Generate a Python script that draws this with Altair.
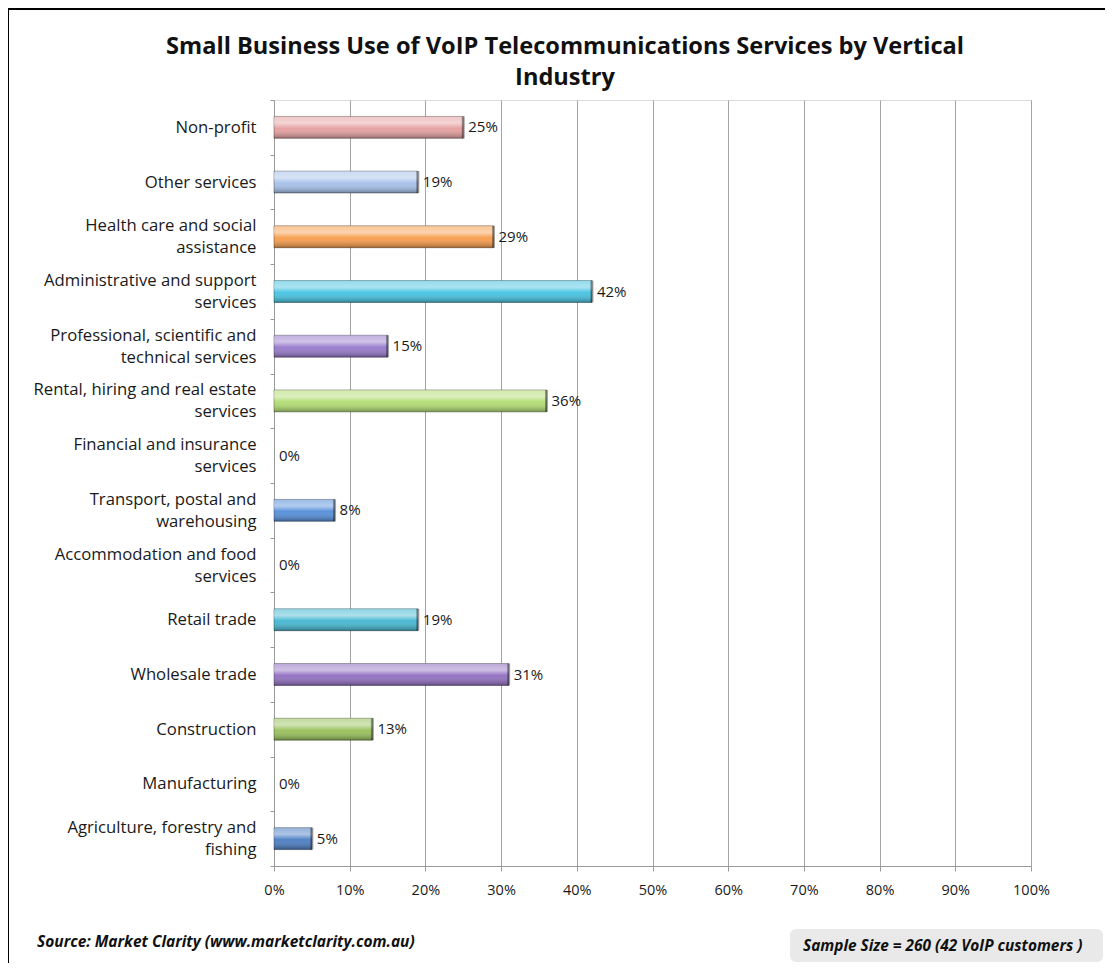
import altair as alt
import pandas as pd

categories = [
    "Non-profit",
    "Other services",
    "Health care and social\nassistance",
    "Administrative and support\nservices",
    "Professional, scientific and\ntechnical services",
    "Rental, hiring and real estate\nservices",
    "Financial and insurance\nservices",
    "Transport, postal and\nwarehousing",
    "Accommodation and food\nservices",
    "Retail trade",
    "Wholesale trade",
    "Construction",
    "Manufacturing",
    "Agriculture, forestry and\nfishing",
]
values = [0.25, 0.19, 0.29, 0.42, 0.15, 0.36, 0.0, 0.08, 0.0, 0.19, 0.31, 0.13, 0.0, 0.05]
colors = [
    "#E6A1A1", "#A6C1EA", "#F79D4C", "#47C4E2", "#987BCB", "#B1DC72", "#C9C9C9",
    "#5690DA", "#C9C9C9", "#46B8D2", "#9270C1", "#99C25C", "#C9C9C9", "#4C7EC4",
]
x_ticks = [i / 10 for i in range(11)]

title_line1 = "Small Business Use of VoIP Telecommunications Services by Vertical"
title_line2 = "Industry"
source_text = "Source: Market Clarity (www.marketclarity.com.au)"
sample_text = "Sample Size = 260 (42 VoIP customers )"

df = pd.DataFrame({"category": categories, "value": values})
one = pd.DataFrame({"k": [0]})

FONT = "Open Sans"

y_enc = alt.Y(
    "category:N",
    sort=categories,
    scale=alt.Scale(paddingInner=0, paddingOuter=0),
    axis=alt.Axis(
        title=None,
        labelExpr="isString(datum.value) ? split(datum.value, '\\n') : ''",
        labelFont=FONT,
        labelFontSize=16.7,
        labelColor="#1a1a1a",
        labelLineHeight=22,
        labelPadding=14,
        labelOffset={
            "condition": {"test": "isString(datum.value) && indexof(datum.value, '\\n') >= 0", "value": -11},
            "value": 0,
        },
        labelLimit=0,
        tickSize=4,
        tickColor="#9a9a9a",
        domainColor="#9a9a9a",
        tickBand="extent",
        grid=False,
    ),
)
x_enc = alt.X(
    "value:Q",
    scale=alt.Scale(domain=[0, 1], nice=False),
    axis=alt.Axis(
        title=None,
        values=x_ticks,
        format=".0%",
        labelFont=FONT,
        labelFontSize=14.5,
        labelColor="#1a1a1a",
        labelPadding=12,
        labelFlush=False,
        tickSize=5,
        tickColor="#9a9a9a",
        domainColor="#9a9a9a",
        grid=True,
        gridColor="#a3a3a3",
        gridWidth=1,
    ),
)
color_enc = alt.Color("category:N", scale=alt.Scale(domain=categories, range=colors), legend=None)

border = alt.Chart(one).mark_rect(fill="transparent", stroke="#000000", strokeWidth=2).encode(
    x=alt.value(-266), x2=alt.value(1000), y=alt.value(-91), y2=alt.value(1000)
)

base = alt.Chart(df).transform_filter("datum.value > 0")

bars = base.mark_bar(
    height=alt.RelativeBandSize(0.4),
    stroke="rgba(0,0,0,0.35)",
    strokeWidth=1,
).encode(x=x_enc, y=y_enc, color=color_enc)

gloss = base.mark_bar(
    height=alt.RelativeBandSize(0.4),
    fill=alt.Gradient(
        gradient="linear",
        x1=0, x2=0, y1=0, y2=1,
        stops=[
            alt.GradientStop(offset=0, color="rgba(255,255,255,0.4)"),
            alt.GradientStop(offset=0.3, color="rgba(255,255,255,0.55)"),
            alt.GradientStop(offset=0.55, color="rgba(255,255,255,0.03)"),
            alt.GradientStop(offset=1, color="rgba(0,0,0,0.34)"),
        ],
    ),
).encode(x="value:Q", y=alt.Y("category:N", sort=categories))

cap = base.mark_tick(orient="vertical", size=22, thickness=3, color="rgba(0,0,0,0.5)").encode(
    x="value:Q", y=alt.Y("category:N", sort=categories)
)

labels = alt.Chart(df).mark_text(
    align="left", baseline="middle", dx=5, font=FONT, fontSize=15, color="#1a1a1a"
).encode(
    x="value:Q",
    y=alt.Y("category:N", sort=categories),
    text=alt.Text("value:Q", format=".0%"),
)

title1 = alt.Chart(one).mark_text(
    text=title_line1, align="center", baseline="middle", font=FONT, fontSize=23.6,
    fontWeight="bold", color="#111111",
).encode(x=alt.value(291), y=alt.value(-53))
title2 = alt.Chart(one).mark_text(
    text=title_line2, align="center", baseline="middle", font=FONT, fontSize=23.6,
    fontWeight="bold", color="#111111",
).encode(x=alt.value(291), y=alt.value(-22))

source = alt.Chart(one).mark_text(
    text=source_text, align="left", baseline="middle", font=FONT, fontSize=15.5,
    fontWeight="bold", fontStyle="italic", color="#111111",
).encode(x=alt.value(-237), y=alt.value(842))

box = alt.Chart(one).mark_rect(fill="#e9e9e9", cornerRadius=6).encode(
    x=alt.value(516), x2=alt.value(829), y=alt.value(829), y2=alt.value(862)
)
sample = alt.Chart(one).mark_text(
    text=sample_text, align="left", baseline="middle", font=FONT, fontSize=15.4,
    fontWeight="bold", fontStyle="italic", color="#111111",
).encode(x=alt.value(529), y=alt.value(846))

chart = alt.layer(
    border, bars, gloss, cap, labels, title1, title2, source, box, sample
).properties(
    width=757,
    height=766,
    padding={"left": 266, "top": 92, "right": 74, "bottom": 97},
    autosize=alt.AutoSizeParams(type="none"),
).configure_view(stroke="transparent").configure(background="white")

chart.save("out.html", embed_options={"renderer": "svg", "actions": False})
